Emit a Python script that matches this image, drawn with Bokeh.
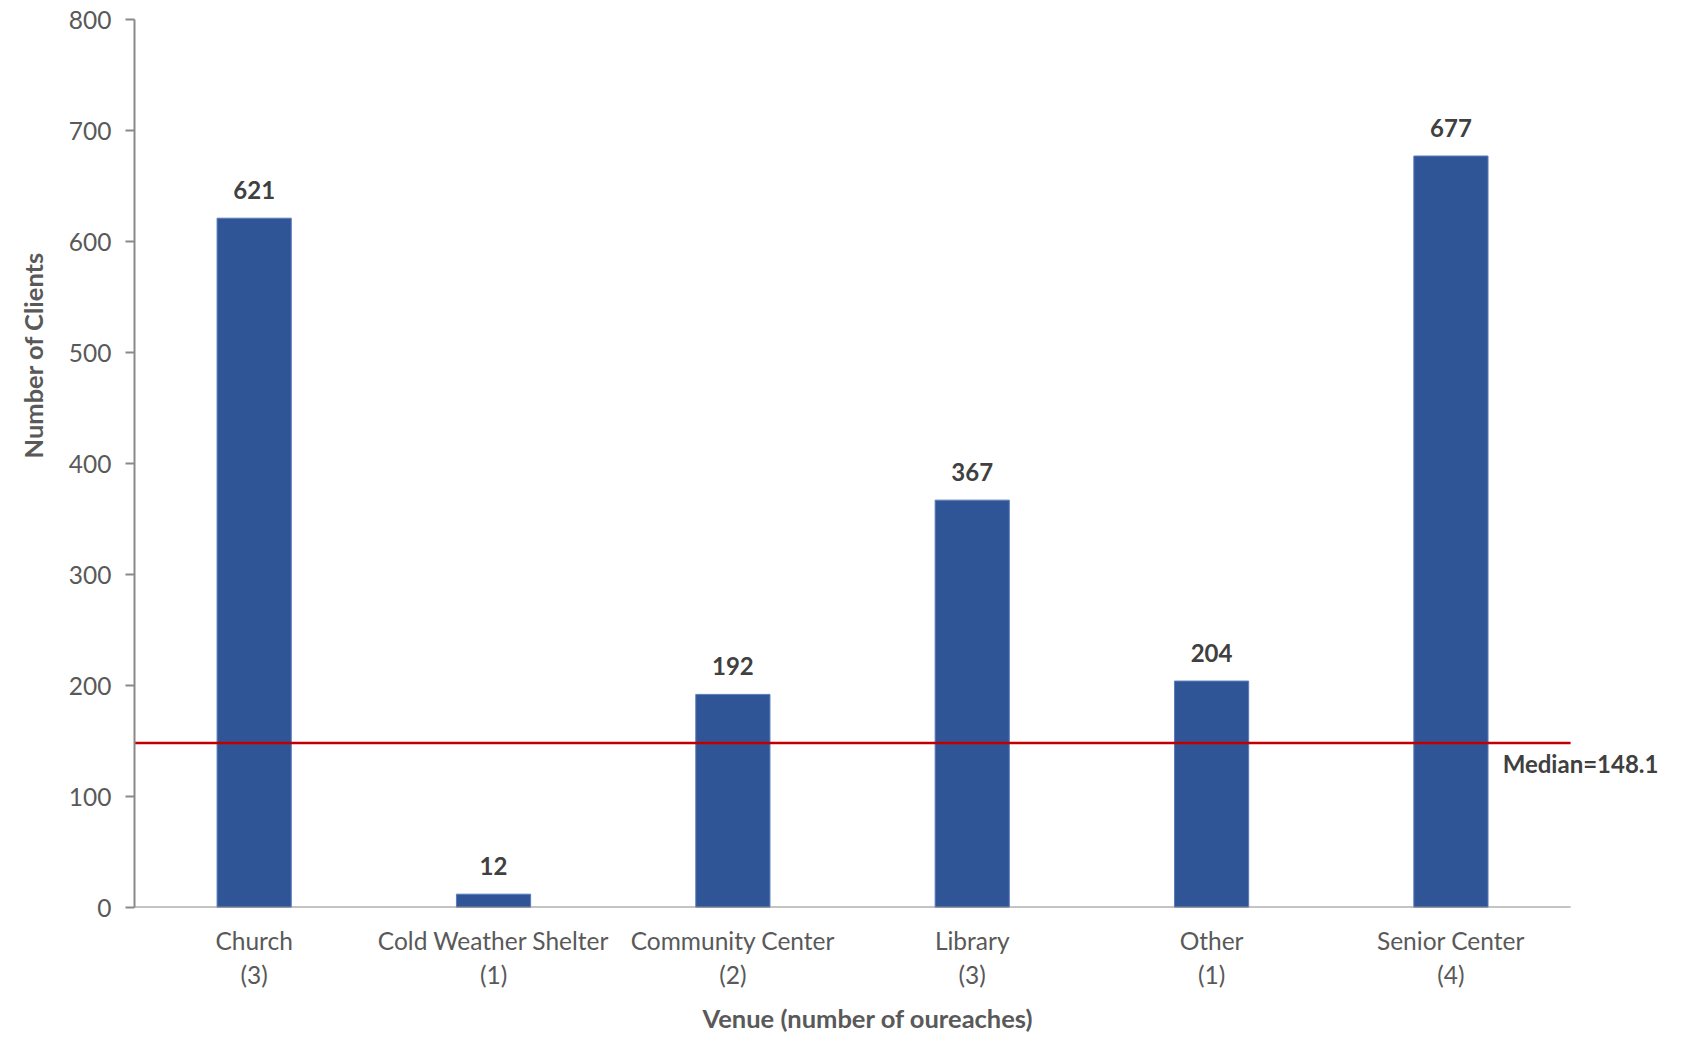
from bokeh.plotting import figure
from bokeh.models import ColumnDataSource, Label, FixedTicker, Range1d, Title
from bokeh.embed import file_html
from bokeh.resources import INLINE
from bokeh.core.properties import value

venues = ["Church", "Cold Weather Shelter", "Community Center", "Library", "Other", "Senior Center"]
outreaches = [3, 1, 2, 3, 1, 4]
clients = [621, 12, 192, 367, 204, 677]
median_value = 148.1
y_ticks = [0, 100, 200, 300, 400, 500, 600, 700, 800]

n = len(venues)
xs = [i + 0.5 for i in range(n)]
tick_labels = [f"{v}\n({k})" for v, k in zip(venues, outreaches)]
src = ColumnDataSource(dict(x=xs, top=clients, label=[str(c) for c in clients]))

FONT = "Lato"

# frame extends past the last category so the median label can sit at the right edge
p = figure(x_range=Range1d(0, 6.409), y_range=Range1d(0, 800), width=1670, height=1041,
           output_backend="svg", toolbar_location=None,
           min_border_left=134, min_border_right=2, min_border_top=19, min_border_bottom=100)
p.outline_line_color = None
p.grid.grid_line_color = None
p.background_fill_color = "white"

p.vbar(x="x", top="top", width=0.31, source=src, fill_color="#2F5597", line_color="#5a7cbc", line_width=1)
p.text(x="x", y="top", text="label", source=src, text_align="center", text_baseline="alphabetic",
       y_offset=-28, text_font=value(FONT), text_font_style="bold", text_font_size="24px", text_color="#404040")

# x baseline over the categories
p.segment(x0=[0], x1=[n], y0=[0], y1=[0], line_color="#898989", line_width=2)
# median line
p.segment(x0=[0], x1=[n], y0=[median_value], y1=[median_value], line_color="#C00000", line_width=2.5)
p.add_layout(Label(x=5.716, y=median_value, text=f"Median={median_value}",
                   y_offset=-20, text_baseline="middle", text_font=FONT, text_font_style="bold",
                   text_font_size="24px", text_color="#404040"))

for ax in (p.xaxis[0], p.yaxis[0]):
    ax.major_label_text_font = FONT
    ax.major_label_text_font_size = "24.5px"
    ax.major_label_text_color = "#595959"
    ax.minor_tick_line_color = None

p.yaxis.axis_line_color = "#898989"
p.yaxis.axis_line_width = 2
p.yaxis.ticker = FixedTicker(ticks=y_ticks)
p.yaxis.major_tick_line_color = "#898989"
p.yaxis.major_tick_line_width = 2
p.yaxis.major_tick_out = 9
p.yaxis.major_tick_in = 0
p.yaxis.major_label_standoff = 14

p.xaxis.axis_line_color = None
p.xaxis.major_tick_line_color = None
p.xaxis.ticker = FixedTicker(ticks=xs)
p.xaxis.major_label_overrides = {x: t for x, t in zip(xs, tick_labels)}
p.xaxis.major_label_standoff = 12

p.add_layout(Title(text="Venue (number of oureaches)", align="left", offset=568, standoff=17,
                   text_font=FONT, text_font_size="25.5px", text_font_style="bold", text_color="#595959"), "below")
p.add_layout(Title(text="Number of Clients", align="left", offset=449, standoff=31, vertical_align="top",
                   text_font=FONT, text_font_size="25.5px", text_font_style="bold", text_color="#595959"), "left")

open("out.html", "w").write(file_html(p, INLINE))
